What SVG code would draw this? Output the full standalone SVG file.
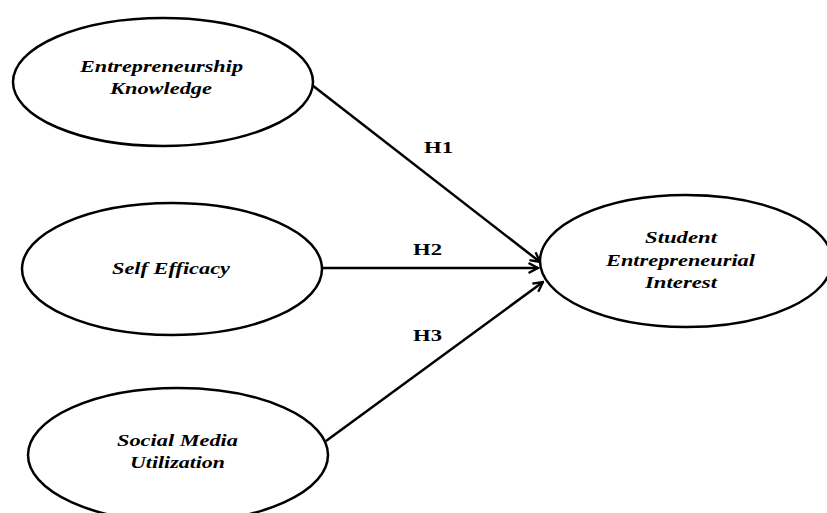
<svg xmlns="http://www.w3.org/2000/svg" width="827" height="513" viewBox="0 0 827 513">
<style>
.node{fill:#fff;stroke:#000;stroke-width:2.5}
.lbl{font-family:"Liberation Serif","Times New Roman",serif;font-weight:bold;font-style:italic;font-size:17px;fill:#000}
.h{font-family:"Liberation Serif","Times New Roman",serif;font-weight:bold;font-size:16px;fill:#000}
.conn{stroke:#000;stroke-width:2.5;fill:none;marker-end:url(#arr)}
</style>
<defs>
<marker id="arr" markerWidth="12" markerHeight="12" refX="10.5" refY="6" orient="auto" markerUnits="userSpaceOnUse" viewBox="0 0 12 12">
<path d="M1,1 L10.5,6 L1,11" fill="none" stroke="#000" stroke-width="2.3"/>
</marker>
</defs>
<rect width="827" height="513" fill="#fff"/>
<g id="connectors">
<line class="conn" x1="312" y1="85" x2="540" y2="262"/>
<line class="conn" x1="322" y1="268" x2="538" y2="268"/>
<line class="conn" x1="326" y1="441" x2="543" y2="282"/>
<text class="h" x="424" y="153" textLength="29" lengthAdjust="spacingAndGlyphs">H1</text>
<text class="h" x="413" y="255" textLength="29" lengthAdjust="spacingAndGlyphs">H2</text>
<text class="h" x="413" y="341" textLength="29" lengthAdjust="spacingAndGlyphs">H3</text>
</g>
<g id="node-ek">
<ellipse class="node" cx="163" cy="82" rx="150" ry="64"/>
<text class="lbl" x="80" y="72" textLength="163" lengthAdjust="spacingAndGlyphs">Entrepreneurship</text>
<text class="lbl" x="110" y="94" textLength="102" lengthAdjust="spacingAndGlyphs">Knowledge</text>
</g>
<g id="node-se">
<ellipse class="node" cx="172" cy="269" rx="150" ry="66"/>
<text class="lbl" x="112" y="274" textLength="118" lengthAdjust="spacingAndGlyphs">Self Efficacy</text>
</g>
<g id="node-smu">
<ellipse class="node" cx="178" cy="455" rx="150" ry="67"/>
<text class="lbl" x="117" y="446" textLength="121" lengthAdjust="spacingAndGlyphs">Social Media</text>
<text class="lbl" x="130" y="468" textLength="95" lengthAdjust="spacingAndGlyphs">Utilization</text>
</g>
<g id="node-sei">
<ellipse class="node" cx="686" cy="261" rx="146" ry="66"/>
<text class="lbl" x="645" y="243" textLength="72" lengthAdjust="spacingAndGlyphs">Student</text>
<text class="lbl" x="606" y="266" textLength="149" lengthAdjust="spacingAndGlyphs">Entrepreneurial</text>
<text class="lbl" x="645" y="288" textLength="72" lengthAdjust="spacingAndGlyphs">Interest</text>
</g>
</svg>
